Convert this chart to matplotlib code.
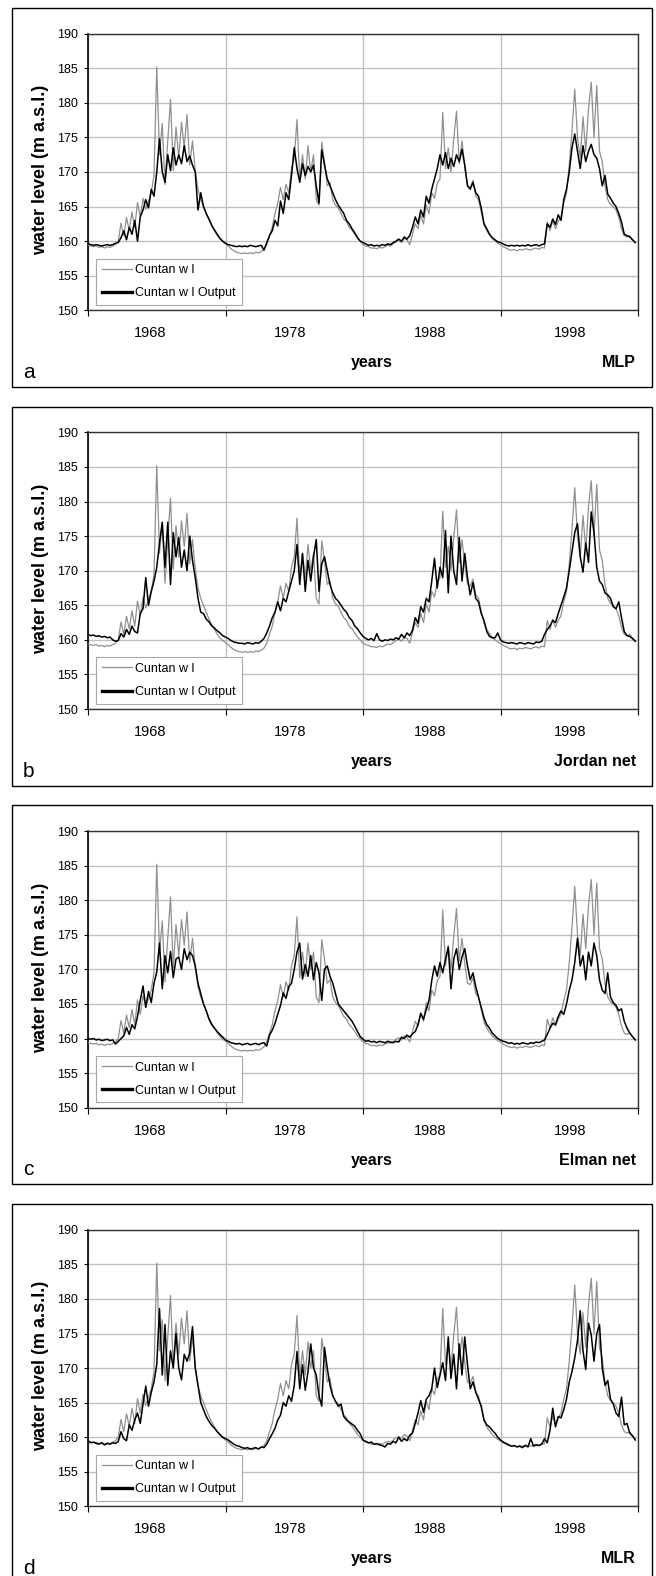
"""
Four-panel comparison of observed Cuntan water level against the
MLP, Jordan net, Elman net and MLR model outputs.
"""

import numpy as np
import matplotlib

matplotlib.use("Agg")
import matplotlib.pyplot as plt
from matplotlib.patches import Rectangle

plt.rcParams["font.family"] = ["Liberation Sans", "DejaVu Sans"]

# ── Data ──────────────────────────────────────────────────────────────

year_labels = ["1968", "1978", "1988", "1998"]
panel_letters = ["a", "b", "c", "d"]
model_names = ["MLP", "Jordan net", "Elman net", "MLR"]
y_ticks = [150, 155, 160, 165, 170, 175, 180, 185, 190]

observed_wl = [
    159.4, 159.3, 159.2, 159.3, 159.1, 159.2, 159.0, 159.2, 159.1, 159.3, 159.5,
    160.0, 162.6, 160.8, 163.4, 161.6, 164.2, 162.0, 165.6, 163.5, 166.2, 164.6, 165.8, 167.0, 169.5,
    185.2, 172.5, 177.0, 168.2, 174.5, 180.5, 170.2, 176.5, 172.0, 177.2, 173.5, 178.3, 171.0, 174.5, 170.2,
    167.5, 166.0, 165.0, 164.0, 163.0, 162.2, 161.5, 160.8, 160.3, 159.9,
    # second hump
    159.6, 159.3, 158.9, 158.6, 158.4, 158.3, 158.2, 158.3, 158.2, 158.3, 158.2, 158.4, 158.3, 158.5, 158.8,
    159.5, 160.8, 162.0, 164.0, 165.5, 167.8, 166.0, 168.2, 167.0, 170.5,
    172.0, 177.6, 168.8, 172.5, 169.0, 173.8, 170.0, 172.5, 166.0, 165.2, 174.3, 171.5, 168.0, 168.5, 166.0,
    165.2, 164.8, 164.0, 163.2, 162.8, 162.0, 161.6, 161.0, 160.4, 160.0,
    # third hump
    159.5, 159.3, 159.2, 159.0, 159.0, 158.9, 159.1, 159.0, 159.2, 159.4, 159.3, 159.6, 159.9,
    160.1, 159.8, 160.4, 160.2, 159.5, 161.0, 162.5, 161.8, 163.8, 162.5, 165.2, 164.0, 167.0, 166.2, 168.4, 169.0,
    178.6, 170.5, 173.5, 170.0, 174.8, 178.8, 171.2, 174.5, 170.8, 168.0, 167.8, 168.8,
    166.5, 166.0, 164.2, 162.4, 161.5, 160.9, 160.4, 160.0, 159.7,
    # fourth hump
    159.5, 159.2, 159.0, 158.8, 158.7, 158.8, 158.6, 158.8, 158.7, 158.9, 158.8, 158.7, 158.9, 159.0, 158.8, 159.1, 159.0,
    162.8, 161.5, 163.0, 161.8, 162.8, 163.5, 165.5, 167.0,
    171.0, 176.0, 182.0, 175.0, 172.0, 178.0, 173.0, 179.2, 183.0, 175.0, 182.5, 173.0, 171.5,
    168.0, 166.0, 165.3, 165.0, 164.5, 163.5, 161.8, 160.8, 160.6, 160.8, 160.2, 159.8,
]

mlp_output = [
    159.6, 159.5, 159.4, 159.5, 159.4, 159.3, 159.4, 159.5, 159.4, 159.5, 159.7,
    159.8, 160.5, 161.5, 160.2, 162.0, 161.0, 163.0, 160.0, 163.5, 164.5, 166.0, 164.8, 167.5, 166.5,
    170.0, 174.8, 170.0, 168.5, 172.5, 170.2, 173.5, 171.0, 172.5, 171.2, 173.8, 171.5, 172.3, 171.0, 170.0,
    164.5, 167.0, 165.0, 164.0, 163.2, 162.3, 161.6, 161.0, 160.4, 160.0,
    159.7, 159.5, 159.4, 159.3, 159.2, 159.3, 159.2, 159.3, 159.2, 159.4, 159.3, 159.2, 159.3, 159.4, 158.7,
    159.8, 160.8, 161.5, 163.0, 162.2, 165.8, 164.0, 167.0, 166.0, 169.5,
    173.5, 170.5, 168.5, 171.2, 169.5, 170.8, 170.0, 171.0, 168.0, 165.5, 173.2, 171.0, 169.0, 168.0, 167.0,
    166.0, 165.2, 164.6, 164.0, 163.0, 162.5, 161.8, 161.2, 160.5, 160.0,
    159.8, 159.6, 159.4, 159.5, 159.3, 159.4, 159.3, 159.5, 159.4, 159.6, 159.5, 159.8, 160.0,
    160.3, 160.0, 160.6, 160.3, 160.8, 162.0, 163.5, 162.5, 164.5, 163.5, 166.5, 165.5, 167.5, 169.0, 170.5, 172.5,
    171.0, 172.8, 170.5, 172.0, 170.8, 172.5, 171.5, 173.3, 171.0, 168.0, 167.5, 168.5,
    167.0, 166.5, 164.8, 162.5, 161.8, 161.0, 160.5, 160.2, 159.9,
    159.8, 159.6, 159.4, 159.3, 159.4, 159.3, 159.4, 159.3, 159.4, 159.3, 159.5, 159.3, 159.4, 159.5, 159.3, 159.5, 159.6,
    162.5, 162.0, 163.2, 162.4, 163.8, 163.0, 166.0, 167.5,
    170.0, 173.5, 175.5, 173.0, 170.5, 173.8, 171.5, 173.0, 174.0, 172.5, 172.0, 170.5, 168.0,
    169.5, 166.8, 166.2, 165.5, 165.0, 164.0, 162.8, 161.0, 160.8, 160.6, 160.2, 159.8,
]

jordan_output = [
    160.8, 160.6, 160.7, 160.5, 160.6, 160.4, 160.5, 160.3, 160.4, 160.0, 159.8, 159.9,
    160.9, 160.4, 161.5, 160.8, 162.0, 161.2, 161.0, 163.8, 164.5, 169.0, 165.0, 167.0, 168.5,
    170.5, 174.0, 177.0, 170.5, 177.0, 168.0, 175.5, 172.0, 174.8, 170.5, 173.0, 170.0, 175.0, 171.5, 169.0,
    166.0, 164.0, 163.8, 163.0, 162.6, 162.0, 161.7, 161.3, 161.0, 160.6,
    160.4, 160.2, 159.9, 159.7, 159.6, 159.5, 159.5, 159.4, 159.6, 159.5, 159.4, 159.6, 159.5, 159.8,
    160.2, 161.0, 162.0, 163.2, 164.0, 165.5, 164.2, 166.0, 165.5, 167.0, 168.5,
    170.0, 173.8, 168.0, 172.5, 167.0, 171.5, 168.5, 172.0, 174.5, 167.0, 171.0, 172.0, 170.0, 168.0, 166.8,
    166.0, 165.6, 165.0, 164.4, 164.0, 163.2, 162.8, 162.0, 161.6, 161.0,
    160.5, 160.2, 160.0, 160.2, 159.9, 160.9, 160.0, 159.8, 160.0, 159.9, 160.1, 160.0, 160.3, 160.1, 160.8, 160.3, 161.0, 160.6, 161.4,
    163.2, 162.4, 164.8, 164.0, 166.0, 165.5, 168.5, 171.8, 167.5, 170.5, 169.0,
    175.8, 166.8, 175.0, 170.0, 168.0, 174.8, 168.5, 172.5, 169.0, 166.5, 168.3,
    166.0, 165.5, 163.8, 162.8, 161.2, 160.5, 160.3, 160.3, 161.0,
    160.0, 159.7, 159.6, 159.5, 159.6, 159.5, 159.4, 159.6, 159.5, 159.4, 159.6, 159.5, 159.4, 159.7, 159.6, 159.8,
    160.8, 161.5, 162.0, 162.8, 162.5, 163.8, 165.0, 166.2, 167.5, 170.0,
    172.8, 175.5, 176.8, 172.0, 169.8, 174.0, 171.2, 178.5, 175.5, 170.5, 168.5, 168.0,
    166.8, 166.5, 166.0, 164.8, 164.5, 165.5, 163.2, 161.2, 160.6, 160.5, 160.2, 159.8,
]

elman_output = [
    160.0, 159.9, 160.0, 159.8, 159.9, 159.7, 159.8, 159.9, 159.7, 159.8, 159.2, 159.6,
    160.0, 160.4, 161.6, 160.6, 162.0, 161.4, 163.2, 165.5, 167.6, 164.5, 166.8, 165.2, 168.0,
    169.6, 173.8, 167.2, 172.0, 169.5, 172.6, 168.8, 171.5, 171.8, 170.0, 173.0, 171.4, 172.5, 172.0, 170.5,
    168.0, 166.5, 165.0, 164.0, 162.8, 162.0, 161.5, 161.0, 160.6, 160.2,
    159.8, 159.6, 159.4, 159.3, 159.2, 159.3, 159.1, 159.2, 159.3, 159.1, 159.2, 159.3, 159.1, 159.3, 159.4, 158.9,
    160.5, 161.2, 162.2, 163.5, 164.8, 166.6, 165.8, 167.5, 168.0,
    170.0, 172.5, 173.8, 168.6, 170.7, 169.0, 172.0, 168.5, 171.0, 169.5, 165.5, 170.0, 170.5, 169.0, 168.0,
    166.5, 165.0, 164.5, 164.0, 163.5, 163.0, 162.5, 161.8, 161.0, 160.3,
    159.9, 159.6, 159.7, 159.5, 159.6, 159.4, 159.6, 159.5, 159.4, 159.6, 159.5, 159.4, 159.6, 159.5,
    160.2, 160.0, 160.5, 160.2, 160.7, 161.0, 162.0, 163.6, 162.8, 164.2, 165.5,
    168.4, 170.5, 169.0, 171.0, 169.5, 171.5, 173.2, 167.2, 171.5, 173.0, 170.0, 171.8, 173.0, 170.5, 168.5, 169.5,
    167.5, 166.0, 164.5, 163.0, 162.0, 161.5, 160.8, 160.4, 160.0,
    159.8, 159.6, 159.5, 159.3, 159.4, 159.2, 159.3, 159.2, 159.4, 159.3, 159.2, 159.4, 159.3, 159.5, 159.4, 159.6, 159.8,
    160.6, 161.5, 162.2, 162.0, 163.2, 164.0, 163.5, 165.0, 167.0, 168.5,
    171.0, 174.5, 170.5, 172.0, 168.5, 172.5, 170.5, 173.8, 172.0, 168.5, 167.0, 166.5,
    169.5, 166.0, 165.2, 164.8, 164.0, 164.3, 162.5, 161.5, 160.8, 160.3, 159.8,
]

mlr_output = [
    159.5, 159.2, 159.3, 159.1, 159.0, 159.2, 158.9, 159.1, 159.0, 159.2, 159.1, 159.4,
    160.8, 159.8, 159.5, 161.8, 161.0, 162.5, 163.5, 162.0, 164.8, 167.4, 164.5, 166.5, 168.0,
    170.5, 178.6, 169.0, 176.3, 167.5, 172.5, 170.0, 175.0, 170.0, 168.3, 172.0, 171.0, 172.2, 176.0, 170.0,
    167.5, 165.0, 164.0, 163.0, 162.3, 161.7, 161.3, 160.8, 160.4, 160.0,
    159.8, 159.6, 159.3, 159.0, 158.8, 158.7, 158.5, 158.4, 158.5, 158.3, 158.4, 158.5, 158.3, 158.6, 158.5, 159.0,
    159.8, 160.5, 161.3, 162.5, 163.2, 165.0, 164.5, 166.0, 165.2, 167.5,
    172.4, 167.0, 170.5, 166.8, 169.5, 173.5, 170.0, 169.0, 166.0, 164.5, 173.0, 170.0, 167.5, 166.0,
    165.2, 164.5, 164.8, 163.0, 162.5, 162.2, 161.9, 161.6, 161.0, 160.5,
    159.6, 159.4, 159.2, 159.3, 159.0, 159.1, 158.9, 158.8, 158.6, 159.1, 159.0, 159.4, 159.2, 160.0, 159.4, 159.8, 159.5, 160.3, 160.6,
    162.0, 163.5, 165.3, 163.6, 165.5, 166.0, 167.0, 170.0, 167.2, 169.0,
    170.8, 168.2, 174.5, 168.5, 172.0, 167.0, 173.5, 169.0, 174.5, 170.5, 167.0, 168.0,
    166.5, 165.5, 164.5, 162.5, 161.8, 161.5, 161.0, 160.6, 160.0,
    159.6, 159.3, 159.1, 158.9, 158.7, 158.8, 158.6, 158.7, 158.5, 158.8, 158.6, 159.8, 158.7, 158.9, 158.8, 159.0, 159.8, 159.2,
    161.0, 164.2, 161.5, 163.0, 162.8, 164.0, 165.5, 168.0, 169.5, 171.5, 174.0,
    178.3, 172.5, 169.8, 176.5, 174.8, 171.0, 175.0, 176.3, 170.0, 167.5, 168.2, 165.5,
    164.8, 163.5, 163.0, 165.8, 161.8, 162.0, 160.6, 160.2, 159.6,
]

model_outputs = [mlp_output, jordan_output, elman_output, mlr_output]

# ── Layout (pixels of the 656 x 1576 canvas) ──────────────────────────

W, H = 656, 1576
PANEL_STEP = 398.7
AX_LEFT, AX_RIGHT, AX_TOP, AX_BOTTOM = 88, 638, 33.7, 310.3
GRID_COLOR = "#c0c0c0"


def fx(px):
    return px / W


def fy(py):
    return 1 - py / H


fig = plt.figure(figsize=(W / 100, H / 100), dpi=100, facecolor="white")

n = len(observed_wl)
x = np.arange(n)
quarter_ticks = [n * q / 4 for q in range(5)]
label_pos = [n * (0.1127 + 0.2545 * k) for k in range(len(year_labels))]

for k, (output, letter, name) in enumerate(zip(model_outputs, panel_letters, model_names)):
    dy = k * PANEL_STEP

    # Outer panel frame
    fig.patches.append(
        Rectangle(
            (fx(12), fy(387 + dy)),
            640 / W,
            379 / H,
            transform=fig.transFigure,
            fill=False,
            edgecolor="black",
            linewidth=1.0,
        )
    )

    ax = fig.add_axes(
        [fx(AX_LEFT), fy(AX_BOTTOM + dy), (AX_RIGHT - AX_LEFT) / W, (AX_BOTTOM - AX_TOP) / H]
    )
    ax.plot(x, observed_wl, color="#909090", linewidth=0.9, label="Cuntan w l", zorder=3)
    ax.plot(x, output, color="black", linewidth=1.1, label="Cuntan w l Output", zorder=4)

    ax.set_xlim(0, n)
    ax.set_ylim(150, 190)
    ax.set_yticks(y_ticks)
    ax.tick_params(axis="y", length=3, width=0.8, pad=4, labelsize=9)

    ax.set_xticks(quarter_ticks)
    ax.tick_params(axis="x", which="major", length=4, width=0.8, labelbottom=False)
    ax.set_xticks(label_pos, minor=True)
    ax.set_xticklabels(year_labels, minor=True)
    ax.tick_params(axis="x", which="minor", length=0, pad=11.5, labelsize=10.5)

    ax.grid(True, which="major", color=GRID_COLOR, linewidth=1.0, zorder=0)
    ax.set_axisbelow(True)
    for side in ["top", "right", "bottom"]:
        ax.spines[side].set_color("#333333")
        ax.spines[side].set_linewidth(1.0)
    ax.spines["left"].set_color("black")
    ax.spines["left"].set_linewidth(1.2)

    leg = ax.legend(
        loc="lower left",
        bbox_to_anchor=(fx(96), fy(305 + dy)),
        bbox_transform=fig.transFigure,
        fontsize=9,
        frameon=True,
        fancybox=False,
        framealpha=1,
        edgecolor="#a8a8a8",
        handlelength=2.4,
        handletextpad=0.3,
        labelspacing=0.9,
        borderpad=0.45,
        borderaxespad=0,
    )
    leg.get_frame().set_linewidth(0.8)
    leg.get_lines()[1].set_linewidth(2.4)

    # Panel texts
    fig.text(fx(41), fy(170 + dy), "water level (m a.s.l.)", rotation=90,
             fontsize=13, fontweight="bold", ha="center", va="center")
    fig.text(fx(23), fy(378 + dy), letter, fontsize=15, ha="left", va="baseline")
    fig.text(fx(372), fy(362.7 + dy), "years", fontsize=11.5, fontweight="bold",
             ha="center", va="center")
    fig.text(fx(636), fy(362.7 + dy), name, fontsize=11.5, fontweight="bold",
             ha="right", va="center")

fig.savefig("out.png", dpi=100)
plt.close(fig)
